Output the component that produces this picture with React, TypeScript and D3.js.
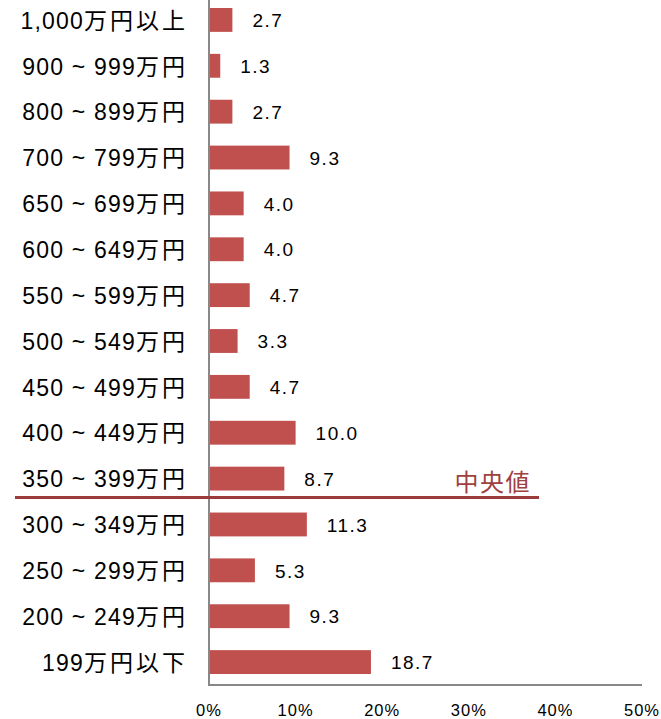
import * as d3 from 'd3'
import { useEffect, useRef } from 'react'

const categories = [
  '1,000万円以上', '900 ~ 999万円', '800 ~ 899万円', '700 ~ 799万円', '650 ~ 699万円',
  '600 ~ 649万円', '550 ~ 599万円', '500 ~ 549万円', '450 ~ 499万円', '400 ~ 449万円',
  '350 ~ 399万円', '300 ~ 349万円', '250 ~ 299万円', '200 ~ 249万円', '199万円以下'
]
const values = [2.7, 1.3, 2.7, 9.3, 4.0, 4.0, 4.7, 3.3, 4.7, 10.0, 8.7, 11.3, 5.3, 9.3, 18.7]
const ticks = [0, 10, 20, 30, 40, 50]
const medianCategory = '350 ~ 399万円'
const medianLabel = '中央値'

const App = () => {
  const svgRef = useRef<SVGSVGElement>(null)

  useEffect(() => {
    const w = 661
    const h = 719
    const font = '"Liberation Sans", Arial, "Noto Sans CJK JP", sans-serif'

    const svg = d3.select(svgRef.current).attr('width', w).attr('height', h)
    svg.selectAll('*').remove()

    const x = d3.scaleLinear().domain([0, 50]).range([209, 642])
    const y = d3.scaleBand().domain(categories).range([-3, 685]).paddingInner(0.48).paddingOuter(0.24)

    // bars
    svg.selectAll('rect.bar').data(values).join('rect').attr('class', 'bar')
      .attr('x', x(0)).attr('y', (d, i) => y(categories[i])!)
      .attr('width', d => x(d) - x(0)).attr('height', y.bandwidth())
      .attr('fill', '#c0504d')

    // value labels
    svg.selectAll('text.val').data(values).join('text').attr('class', 'val')
      .attr('x', d => x(d) + 20).attr('y', (d, i) => y(categories[i])! + y.bandwidth() / 2)
      .attr('dy', '0.38em').attr('font-family', font).attr('font-size', 19)
      .attr('letter-spacing', 1.5).attr('fill', '#000')
      .text(d => d.toFixed(1))

    // category labels: number part and kanji part get different spacing
    const cat = svg.selectAll('text.cat').data(categories).join('text').attr('class', 'cat')
      .attr('x', 188).attr('y', d => y(d)! + y.bandwidth() / 2)
      .attr('dy', '0.38em').attr('text-anchor', 'end').attr('font-family', font)
      .attr('font-size', 23).attr('fill', '#000')
    cat.append('tspan').attr('letter-spacing', 1.2).text(d => d.replace(/[万円以上下]+$/, ''))
    cat.append('tspan').attr('letter-spacing', 3).text(d => d.match(/[万円以上下]+$/)![0])

    // axes
    svg.append('line').attr('x1', x(0)).attr('x2', x(0)).attr('y1', 0).attr('y2', 686)
      .attr('stroke', '#888').attr('stroke-width', 2)
    svg.append('line').attr('x1', x(0) - 1).attr('x2', x(50)).attr('y1', 685).attr('y2', 685)
      .attr('stroke', '#888').attr('stroke-width', 2)

    // tick labels
    svg.selectAll('text.tick').data(ticks).join('text').attr('class', 'tick')
      .attr('x', d => x(d)).attr('y', 716).attr('text-anchor', 'middle')
      .attr('font-family', font).attr('font-size', 16.5).attr('letter-spacing', 1)
      .text(d => d + '%')

    // median line
    const my = y(medianCategory)! + y.bandwidth() + (y.step() - y.bandwidth()) / 2 - 4
    svg.append('line').attr('x1', 15).attr('x2', 539).attr('y1', my).attr('y2', my)
      .attr('stroke', '#9b3b3b').attr('stroke-width', 3)
    svg.append('text').attr('x', 531).attr('y', my - 7).attr('text-anchor', 'end')
      .attr('font-family', font).attr('font-size', 24).attr('letter-spacing', 1.5)
      .attr('fill', '#a0403f')
      .text(medianLabel)
  }, [])

  return (
    <div style={{ position: 'absolute', left: 0, top: 0 }}>
      <svg ref={svgRef} style={{ display: 'block' }}></svg>
    </div>
  )
}

export default App
